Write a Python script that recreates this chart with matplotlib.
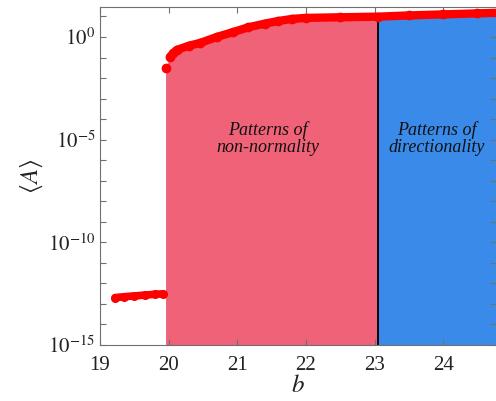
import numpy as np
import matplotlib
matplotlib.use("Agg")
import matplotlib.pyplot as plt
from matplotlib.ticker import FixedLocator, FuncFormatter, NullLocator

plt.rcParams['font.family'] = ['Liberation Serif', 'DejaVu Serif']
plt.rcParams['mathtext.fontset'] = 'stix'

# lower branch
b_low = [19.22, 19.35, 19.5, 19.65, 19.8, 19.92]
logA_low = [-12.69, -12.65, -12.61, -12.57, -12.53, -12.51]

# isolated jump point
b_jump = [19.955]
logA_jump = [-1.5]

# upper branch
b_up = [20.02, 20.07, 20.12, 20.3, 20.46, 20.70, 20.94, 21.16, 21.4, 21.6,
        21.8, 22.0, 22.5, 23.05, 23.5, 24.0, 24.5, 24.8]
logA_up = [-0.97, -0.78, -0.63, -0.42, -0.29, 0.0, 0.24, 0.47, 0.65, 0.78,
           0.88, 0.93, 0.96, 0.99, 1.05, 1.10, 1.15, 1.18]

b_split = 23.05
region_labels = ["Patterns of\nnon-normality", "Patterns of\ndirectionality"]
x_ticks = [19, 20, 21, 22, 23, 24]

pink = '#F06278'
blue = '#3A8BE9'

fig = plt.figure(figsize=(4.96, 4.01), dpi=100)
ax = fig.add_axes([100/496, 56/401, 396/496, 338/401])

bf = np.array(b_jump + b_up)
Af = 10.0 ** np.array(logA_jump + logA_up)
ymin = 1e-15
m1 = bf <= b_split
ax.fill_between(bf[m1], ymin, Af[m1], color=pink, lw=0, zorder=1)
m2 = bf >= b_split
ax.fill_between(bf[m2], ymin, Af[m2], color=blue, lw=0, zorder=1)

ysplit = 10 ** np.interp(b_split, b_up, logA_up)
ax.plot([b_split, b_split], [ymin, ysplit], color='black', lw=1.3, zorder=2)

red = '#FF0000'
ax.plot(b_low, 10.0 ** np.array(logA_low), color=red, lw=5.5, marker='o',
        ms=5.5, solid_capstyle='round', zorder=3)
ax.plot(b_jump, 10.0 ** np.array(logA_jump), color=red, lw=0, marker='o',
        ms=6, zorder=3)
ax.plot(b_up, 10.0 ** np.array(logA_up), color=red, lw=6, marker='o',
        ms=6, solid_capstyle='round', zorder=3)

ax.set_yscale('log')
ax.set_xlim(19, 24.77)
ax.set_ylim(1e-15, 10 ** 1.46)
ax.xaxis.set_major_locator(FixedLocator(x_ticks))
ax.yaxis.set_major_locator(FixedLocator([10.0 ** k for k in range(-15, 2)]))
ax.yaxis.set_minor_locator(NullLocator())

def yfmt(v, pos):
    k = int(round(np.log10(v)))
    if k % 5 == 0:
        return r'$10^{%d}$' % k
    return ''
ax.yaxis.set_major_formatter(FuncFormatter(yfmt))

ax.tick_params(direction='in', top=True, right=True, length=4, width=0.8,
               color='#707070', labelsize=15, labelcolor='#222222')
ax.tick_params(axis='x', pad=8)
for s in ax.spines.values():
    s.set_color('#707070')
    s.set_linewidth(0.8)
ax.spines['right'].set_visible(False)

ax.set_xlabel(r'$b$', fontsize=18, color='#222222', labelpad=0)
ax.set_ylabel(r'$\langle A\rangle$', fontsize=18, color='#222222', labelpad=2)

ax.text(21.45, 10 ** -4.95, region_labels[0], style='italic', fontsize=13,
        ha='center', va='center', linespacing=1.05, color='#111111', zorder=4)
ax.text(23.91, 10 ** -4.95, region_labels[1], style='italic', fontsize=13,
        ha='center', va='center', linespacing=1.05, color='#111111', zorder=4)

fig.savefig('out.png', dpi=100)
